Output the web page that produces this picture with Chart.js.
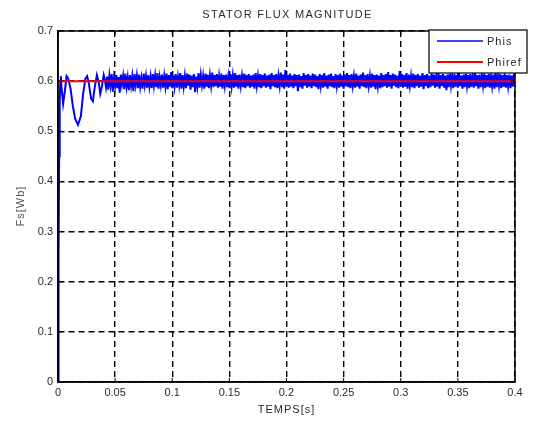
<!DOCTYPE html>
<html>
<head>
<meta charset="utf-8">
<script src="https://cdn.jsdelivr.net/npm/chart.js@4/dist/chart.umd.min.js"></script>
<style>
html,body{margin:0;padding:0;background:#fff;}
#wrap{width:536px;height:422px;position:relative;}
</style>
</head>
<body>
<div id="wrap"><canvas id="c" width="536" height="422"></canvas></div>
<script>
const chartTitle = 'STATOR FLUX MAGNITUDE';
const xAxisTitle = 'TEMPS[s]';
const yAxisTitle = 'Fs[Wb]';
const seriesNames = ['Phis', 'Phiref'];
const xTicks = [0, 0.05, 0.1, 0.15, 0.2, 0.25, 0.3, 0.35, 0.4];
const yTicks = [0, 0.1, 0.2, 0.3, 0.4, 0.5, 0.6, 0.7];

// start-up transient of the flux magnitude
const transientTime = [0,0.0005,0.001,0.0015,0.002,0.0025,0.003,0.0045,0.006,0.0075,0.009,0.011,0.013,0.015,0.0175,0.02,0.022,0.024,0.0255,0.027,0.029,0.0305,0.032,0.034,0.0355,0.037,0.0385,0.040];
const transientPhis = [0,0.25,0.45,0.56,0.60,0.61,0.59,0.555,0.58,0.61,0.605,0.585,0.55,0.525,0.513,0.53,0.575,0.605,0.61,0.595,0.565,0.56,0.585,0.612,0.60,0.575,0.59,0.612];

// steady-state ripple around the reference
const steadyTime = [
0.041,0.042,0.043,0.044,0.045,0.046,0.047,0.048,0.049,0.050,
0.051,0.052,0.053,0.054,0.055,0.056,0.057,0.058,0.059,0.060,
0.061,0.062,0.063,0.064,0.065,0.066,0.067,0.068,0.069,0.070,
0.071,0.072,0.073,0.074,0.075,0.076,0.077,0.078,0.079,0.080,
0.081,0.082,0.083,0.084,0.085,0.086,0.087,0.088,0.089,0.090,
0.091,0.092,0.093,0.094,0.095,0.096,0.097,0.098,0.099,0.100,
0.101,0.102,0.103,0.104,0.105,0.106,0.107,0.108,0.109,0.110,
0.111,0.112,0.113,0.114,0.115,0.116,0.117,0.118,0.119,0.120,
0.121,0.122,0.123,0.124,0.125,0.126,0.127,0.128,0.129,0.130,
0.131,0.132,0.133,0.134,0.135,0.136,0.137,0.138,0.139,0.140,
0.141,0.142,0.143,0.144,0.145,0.146,0.147,0.148,0.149,0.150,
0.151,0.152,0.153,0.154,0.155,0.156,0.157,0.158,0.159,0.160,
0.161,0.162,0.163,0.164,0.165,0.166,0.167,0.168,0.169,0.170,
0.171,0.172,0.173,0.174,0.175,0.176,0.177,0.178,0.179,0.180,
0.181,0.182,0.183,0.184,0.185,0.186,0.187,0.188,0.189,0.190,
0.191,0.192,0.193,0.194,0.195,0.196,0.197,0.198,0.199,0.200,
0.201,0.202,0.203,0.204,0.205,0.206,0.207,0.208,0.209,0.210,
0.211,0.212,0.213,0.214,0.215,0.216,0.217,0.218,0.219,0.220,
0.221,0.222,0.223,0.224,0.225,0.226,0.227,0.228,0.229,0.230,
0.231,0.232,0.233,0.234,0.235,0.236,0.237,0.238,0.239,0.240,
0.241,0.242,0.243,0.244,0.245,0.246,0.247,0.248,0.249,0.250,
0.251,0.252,0.253,0.254,0.255,0.256,0.257,0.258,0.259,0.260,
0.261,0.262,0.263,0.264,0.265,0.266,0.267,0.268,0.269,0.270,
0.271,0.272,0.273,0.274,0.275,0.276,0.277,0.278,0.279,0.280,
0.281,0.282,0.283,0.284,0.285,0.286,0.287,0.288,0.289,0.290,
0.291,0.292,0.293,0.294,0.295,0.296,0.297,0.298,0.299,0.300,
0.301,0.302,0.303,0.304,0.305,0.306,0.307,0.308,0.309,0.310,
0.311,0.312,0.313,0.314,0.315,0.316,0.317,0.318,0.319,0.320,
0.321,0.322,0.323,0.324,0.325,0.326,0.327,0.328,0.329,0.330,
0.331,0.332,0.333,0.334,0.335,0.336,0.337,0.338,0.339,0.340,
0.341,0.342,0.343,0.344,0.345,0.346,0.347,0.348,0.349,0.350,
0.351,0.352,0.353,0.354,0.355,0.356,0.357,0.358,0.359,0.360,
0.361,0.362,0.363,0.364,0.365,0.366,0.367,0.368,0.369,0.370,
0.371,0.372,0.373,0.374,0.375,0.376,0.377,0.378,0.379,0.380,
0.381,0.382,0.383,0.384,0.385,0.386,0.387,0.388,0.389,0.390,
0.391,0.392,0.393,0.394,0.395,0.396,0.397,0.398,0.399,0.400];
const steadyPhis = [
0.603,0.588,0.609,0.583,0.611,0.592,0.614,0.579,0.606,0.590,
0.612,0.586,0.608,0.577,0.613,0.594,0.610,0.584,0.615,0.589,
0.607,0.582,0.612,0.591,0.609,0.580,0.614,0.593,0.611,0.586,
0.613,0.589,0.606,0.585,0.615,0.592,0.610,0.587,0.612,0.590,
0.609,0.586,0.614,0.591,0.611,0.588,0.616,0.585,0.608,0.592,
0.613,0.587,0.610,0.590,0.615,0.584,0.612,0.589,0.618,0.586,
0.611,0.590,0.614,0.587,0.609,0.592,0.616,0.585,0.612,0.589,
0.610,0.586,0.615,0.591,0.613,0.583,0.611,0.588,0.614,0.578,
0.609,0.590,0.616,0.587,0.612,0.592,0.610,0.585,0.615,0.589,
0.613,0.586,0.611,0.591,0.617,0.588,0.612,0.590,0.614,0.587,
0.610,0.589,0.615,0.585,0.612,0.591,0.613,0.588,0.609,0.586,
0.614,0.590,0.611,0.587,0.616,0.589,0.612,0.585,0.613,0.591,
0.610,0.588,0.615,0.586,0.612,0.590,0.614,0.587,0.611,0.589,
0.613,0.585,0.616,0.591,0.610,0.588,0.614,0.586,0.612,0.590,
0.615,0.587,0.611,0.589,0.613,0.584,0.616,0.590,0.612,0.588,
0.614,0.586,0.610,0.591,0.617,0.588,0.613,0.585,0.622,0.590,
0.612,0.587,0.615,0.589,0.611,0.586,0.614,0.590,0.612,0.580,
0.613,0.588,0.610,0.585,0.616,0.591,0.612,0.587,0.614,0.589,
0.611,0.586,0.615,0.590,0.613,0.588,0.610,0.584,0.614,0.591,
0.612,0.587,0.616,0.589,0.611,0.585,0.613,0.590,0.615,0.588,
0.610,0.586,0.614,0.591,0.612,0.587,0.615,0.589,0.611,0.585,
0.613,0.590,0.616,0.588,0.612,0.586,0.614,0.591,0.610,0.587,
0.615,0.589,0.611,0.585,0.613,0.590,0.617,0.588,0.612,0.586,
0.614,0.591,0.610,0.587,0.615,0.589,0.612,0.584,0.613,0.590,
0.611,0.586,0.616,0.588,0.612,0.590,0.614,0.587,0.618,0.589,
0.612,0.585,0.615,0.591,0.613,0.588,0.611,0.586,0.620,0.590,
0.614,0.587,0.612,0.589,0.616,0.585,0.613,0.591,0.610,0.588,
0.615,0.586,0.612,0.590,0.614,0.587,0.611,0.589,0.616,0.584,
0.612,0.590,0.614,0.586,0.611,0.588,0.615,0.591,0.613,0.587,
0.610,0.589,0.616,0.585,0.612,0.590,0.614,0.587,0.611,0.582,
0.613,0.588,0.615,0.591,0.610,0.586,0.614,0.589,0.612,0.587,
0.616,0.590,0.611,0.585,0.613,0.588,0.615,0.591,0.612,0.586,
0.614,0.589,0.610,0.587,0.616,0.590,0.612,0.585,0.613,0.588,
0.611,0.591,0.615,0.586,0.612,0.589,0.614,0.587,0.610,0.590,
0.613,0.585,0.616,0.588,0.611,0.591,0.614,0.586,0.612,0.589,
0.615,0.587,0.612,0.590,0.613,0.586,0.611,0.589,0.614,0.591];

const refTime = [0, 0.4];
const refValue = [0.6, 0.6];

const phisTime = transientTime.concat(steadyTime);
const phisValue = transientPhis.concat(steadyPhis);
const phisPoints = phisTime.map((t, i) => ({x: t, y: phisValue[i]}));
const refPoints = refTime.map((t, i) => ({x: t, y: refValue[i]}));

const FONT = '"Liberation Sans", Arial, sans-serif';
const TXT = '#2a2a2a';

const decor = {
  id: 'decor',
  afterDatasetsDraw(chart) {
    const ctx = chart.ctx, a = chart.chartArea;
    ctx.save();
    // box
    ctx.strokeStyle = '#000';
    ctx.lineWidth = 1.5;
    ctx.setLineDash([]);
    ctx.strokeRect(a.left, a.top, a.right - a.left, a.bottom - a.top);
    // small inner tick marks
    ctx.lineWidth = 1;
    const xs = chart.scales.x, ys = chart.scales.y;
    xTicks.forEach(v => {
      const px = xs.getPixelForValue(v);
      ctx.beginPath(); ctx.moveTo(px, a.bottom); ctx.lineTo(px, a.bottom - 4); ctx.stroke();
      ctx.beginPath(); ctx.moveTo(px, a.top); ctx.lineTo(px, a.top + 4); ctx.stroke();
    });
    yTicks.forEach(v => {
      const py = ys.getPixelForValue(v);
      ctx.beginPath(); ctx.moveTo(a.left, py); ctx.lineTo(a.left + 4, py); ctx.stroke();
      ctx.beginPath(); ctx.moveTo(a.right, py); ctx.lineTo(a.right - 4, py); ctx.stroke();
    });
    // texts
    ctx.fillStyle = TXT;
    ctx.textBaseline = 'middle';
    ctx.textAlign = 'center';
    ctx.font = '11px ' + FONT;
    try { ctx.letterSpacing = '1.3px'; } catch (e) {}
    ctx.fillText(chartTitle, (a.left + a.right) / 2 + 1, 15);
    try { ctx.letterSpacing = '1px'; } catch (e) {}
    ctx.fillText(xAxisTitle, (a.left + a.right) / 2, 410);
    ctx.save();
    ctx.translate(21, 206);
    ctx.rotate(-Math.PI / 2);
    ctx.fillStyle = '#555';
    ctx.fillText(yAxisTitle, 0, 0);
    ctx.restore();
    // legend
    const lx = 429, ly = 30, lw = 98, lh = 43;
    ctx.fillStyle = '#fff';
    ctx.fillRect(lx, ly, lw, lh);
    ctx.strokeStyle = '#000';
    ctx.lineWidth = 1.2;
    ctx.strokeRect(lx, ly, lw, lh);
    const items = [
      {name: seriesNames[0], color: '#0000ff', y: 41, w: 1.5},
      {name: seriesNames[1], color: '#ff0000', y: 62, w: 2}
    ];
    items.forEach(it => {
      ctx.strokeStyle = it.color;
      ctx.lineWidth = it.w;
      ctx.beginPath(); ctx.moveTo(437, it.y); ctx.lineTo(483, it.y); ctx.stroke();
      ctx.fillStyle = TXT;
      ctx.textAlign = 'left';
      ctx.fillText(it.name, 487, it.y + 1);
    });
    ctx.restore();
  }
};

const fmt = v => String(Number(Number(v).toFixed(2)));

new Chart(document.getElementById('c'), {
  type: 'line',
  data: {
    datasets: [
      {label: seriesNames[1], data: refPoints, borderColor: '#ff0000', borderWidth: 2, pointRadius: 0, order: 0},
      {label: seriesNames[0], data: phisPoints, borderColor: '#0000ff', borderWidth: 2, pointRadius: 0, tension: 0, order: 1}
    ]
  },
  options: {
    responsive: false,
    animation: false,
    parsing: true,
    layout: {padding: {left: 0, right: 21, top: 31, bottom: 0}},
    plugins: {legend: {display: false}, title: {display: false}, tooltip: {enabled: false}},
    scales: {
      x: {
        type: 'linear', min: 0, max: 0.4,
        afterFit: s => { s.height = 40; },
        afterBuildTicks: s => { s.ticks = xTicks.map(v => ({value: v})); },
        ticks: {callback: fmt, color: TXT, font: {family: FONT, size: 11}, padding: 4, maxRotation: 0, autoSkip: false},
        grid: {color: '#000', lineWidth: 1.4, drawTicks: false, tickLength: 0},
        border: {display: true, color: '#000', width: 1.5, dash: [6, 4]}
      },
      y: {
        type: 'linear', min: 0, max: 0.7,
        afterFit: s => { s.width = 58; },
        afterBuildTicks: s => { s.ticks = yTicks.map(v => ({value: v})); },
        ticks: {callback: fmt, color: TXT, font: {family: FONT, size: 11}, padding: 5, autoSkip: false},
        grid: {color: '#000', lineWidth: 1.4, drawTicks: false, tickLength: 0},
        border: {display: true, color: '#000', width: 1.5, dash: [6, 4]}
      }
    }
  },
  plugins: [decor]
});
</script>
</body>
</html>
